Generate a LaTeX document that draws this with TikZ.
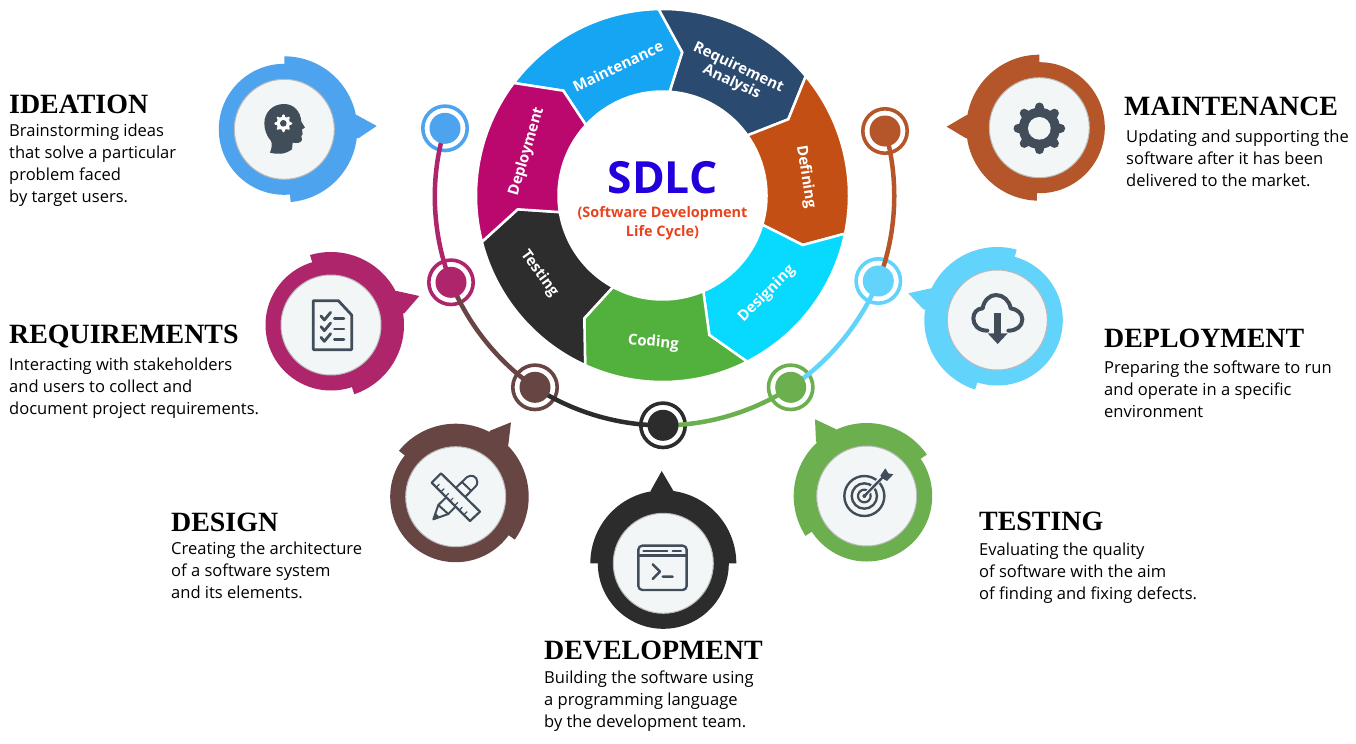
\documentclass[tikz,border=0pt]{standalone}
\usepackage{fontspec}
\usetikzlibrary{calc}
\setmainfont{Liberation Serif}
\newfontfamily\bodyf{Open Sans}
\definecolor{cIde}{HTML}{4EA3EE}
\definecolor{cReq}{HTML}{AE256C}
\definecolor{cDes}{HTML}{674543}
\definecolor{cDev}{HTML}{2C2C2C}
\definecolor{cTes}{HTML}{6BAF4E}
\definecolor{cDep}{HTML}{62D3FB}
\definecolor{cMai}{HTML}{B5562A}
\definecolor{disc}{HTML}{F3F6F7}
\definecolor{icon}{HTML}{414E5A}
\tikzset{
  ringseg/.style={draw=white,line width=2.5bp,line join=miter,fill=#1},
  ringlabel/.style={text=white,font=\bodyf\bfseries\fontsize{15}{17}\selectfont,align=center,inner sep=0pt},
  ttl/.style={anchor=base west,inner sep=0pt,font=\bfseries\fontsize{28}{30}\selectfont},
  bodytxt/.style={anchor=north west,inner sep=0pt,align=left,font=\bodyf\fontsize{16.6}{22.1}\selectfont},
  halo/.style={circle,draw=#1,line width=3.6bp,fill=white,minimum size=44.4bp,inner sep=0pt},
  dot/.style={circle,fill=#1,minimum size=31bp,inner sep=0pt},
  link/.style={draw=#1,line width=4.5bp},
  innerdisc/.style={circle,fill=disc,draw=black!27,line width=1bp,minimum size=100bp,inner sep=0pt},
  ic/.style={draw=icon,line width=2.4bp,line cap=round,line join=round}
}
% outer a1, outer a2, tip, inner a2, inner a1, notch
\newcommand{\rseg}[7]{%
  \path[ringseg=#1] plot[domain=#2:#3,samples=50] ({662.5+186.5*cos(\x)},{195.5-186.5*sin(\x)})
   -- (#4) -- plot[domain=#5:#6,samples=40] ({662.5+104*cos(\x)},{195.5-104*sin(\x)})
   -- (#7) -- cycle;}
% name, cx, cy, colour, a1, a2, tip, base1, base2
\newcommand{\badge}[9]{%
  \fill[#4] (#2,#3) circle (65.5);
  \fill[#4] (#2,#3) -- plot[domain=#5:#6,samples=70] ({#2+73*cos(\x)},{#3-73*sin(\x)}) -- cycle;
  \fill[#4] (#7) -- (#8) -- (#2,#3) -- (#9) -- cycle;
  \node[innerdisc] (#1) at (#2,#3) {};}
\begin{document}
\begin{tikzpicture}[x=1bp,y=-1bp]
\useasboundingbox (0,0) rectangle (1356,743);
\fill[white] (0,0) rectangle (1356,743);

% ---------- central ring ----------
\definecolor{sMai}{HTML}{16A5F3}\definecolor{sReq}{HTML}{2A4A6F}\definecolor{sDef}{HTML}{C44F14}
\definecolor{sDes}{HTML}{08D9FF}\definecolor{sCod}{HTML}{52B13C}\definecolor{sTes}{HTML}{2D2D2D}\definecolor{sDep}{HTML}{BA086F}
\rseg{sMai}{142.9}{91.2}{682.3,52.3}{86}{137.4}{563.3,90.7}
\rseg{sReq}{91.2}{39.8}{788.3,119.3}{35.3}{86}{682.3,52.3}
\rseg{sDef}{39.8}{-11.8}{802.7,245}{-16.3}{35.3}{788.3,119.3}
\rseg{sDes}{-11.8}{-63}{709.3,335}{-66.9}{-16.3}{802.7,245}
\rseg{sCod}{-63}{-114.5}{584.3,318.3}{-118.4}{-66.9}{709.3,335}
\rseg{sTes}{-114.5}{-165.6}{517.7,209.3}{-170.8}{-118.4}{584.3,318.3}
\rseg{sDep}{194.4}{142.9}{563.3,90.7}{137.4}{189.2}{517.7,209.3}

\node[ringlabel,rotate=25.5] (lMai) at (618,66) {Maintenance};
\node[ringlabel,rotate=-25] (lReq) at (735,75) {Requirement\\[-1pt]Analysis};
\node[ringlabel,rotate=-81] (lDef) at (805.7,176.7) {Defining};
\node[ringlabel,rotate=45] (lDes) at (766.7,294) {Designing};
\node[ringlabel,rotate=-5] (lCod) at (653.3,342.7) {Coding};
\node[ringlabel,rotate=-54] (lTes) at (539.3,273.3) {Testing};
\node[ringlabel,rotate=73.5] (lDep) at (526.7,151.7) {Deployment};

\node[font=\bodyf\bfseries\fontsize{44.5}{48}\selectfont,text={rgb,255:red,34;green,0;blue,221},inner sep=0pt] (sdlc) at (662.5,178) {SDLC};
\node[font=\bodyf\bfseries\fontsize{14.5}{19}\selectfont,text={rgb,255:red,232;green,67;blue,31},align=center,inner sep=0pt] (sub) at (662.5,223.5) {(Software Development\\Life Cycle)};

% ---------- timeline ----------
\node[halo=cIde] (r1) at (445,128.3) {};
\node[halo=cReq] (r2) at (451,282.3) {};
\node[halo=cDes] (r3) at (535,387.3) {};
\node[halo=cDev] (r4) at (663,425.3) {};
\node[halo=cTes] (r5) at (790.7,387.3) {};
\node[halo=cDep] (r6) at (878.3,281) {};
\node[halo=cMai] (r7) at (885,131) {};
\draw[link=cReq] (r1.center) to[bend right=19.8,looseness=.85] (r2.center);
\draw[link=cDes] (r2.center) to[bend right=17,looseness=.85] (r3.center);
\draw[link=cDev] (r3.center) to[bend right=17,looseness=.85] (r4.center);
\draw[link=cTes] (r4.center) to[bend right=17,looseness=.85] (r5.center);
\draw[link=cDep] (r5.center) to[bend right=17,looseness=.85] (r6.center);
\draw[link=cMai] (r6.center) to[bend right=19.3,looseness=.85] (r7.center);
\node[dot=cIde] (d1) at (r1) {};
\node[dot=cReq] (d2) at (r2) {};
\node[dot=cDes] (d3) at (r3) {};
\node[dot=cDev] (d4) at (r4) {};
\node[dot=cTes] (d5) at (r5) {};
\node[dot=cDep] (d6) at (r6) {};
\node[dot=cMai] (d7) at (r7) {};

% ---------- badges ----------
\badge{bIde}{284.3}{129.3}{cIde}{90}{-85}{376.7,126}{356.7,115}{358.3,138.3}
\badge{bReq}{331}{325}{cReq}{106.7}{-71.4}{419.3,296}{396.7,291}{404.3,313.3}
\badge{bDes}{455.7}{496.7}{cDes}{141}{-36}{511,422.3}{490,430.7}{508.3,445}
\badge{bDev}{663.3}{563.3}{cDev}{180}{0}{661.7,471}{650.7,490.7}{673.3,490.7}
\badge{bTes}{866.7}{496}{cTes}{213}{34.6}{815,419.3}{816,441.7}{835.7,429}
\badge{bDep}{997.3}{320}{cDep}{252.3}{74.6}{908.3,293.3}{931,288.3}{923.3,309.3}
\badge{bMai}{1039.3}{127.7}{cMai}{268}{90}{946.7,126.7}{966.7,115}{966,138.3}

% ---------- icons ----------
% head
\begin{scope}[shift={(210,60)},scale=1/3]
  \fill[icon] (180,278) .. controls (186,262) and (187,252) .. (183,243)
     .. controls (170,228) and (163,210) .. (163,190)
     .. controls (163,155) and (190,132) .. (222,132)
     .. controls (252,132) and (272,155) .. (274,185)
     -- (285,203) -- (276,208) -- (278,222) -- (274,228) -- (276,240)
     .. controls (272,250) and (260,250) .. (248,248)
     -- (246,268) .. controls (225,284) and (200,284) .. (180,278) -- cycle;
  \begin{scope}[shift={(220,190)}]
    \fill[white] (0,0) circle (20);
    \foreach \a in {0,45,...,315} \draw[white,line width=2.8bp,line cap=round] (\a:14) -- (\a:23);
    \fill[icon] (0,0) circle (10);
  \end{scope}
\end{scope}
% checklist
\begin{scope}[shift={(210,60)},scale=1/3]
  \draw[ic,line width=2.8bp] (310,722) -- (385,722) -- (425,765) -- (425,869) -- (310,869) -- cycle;
  \foreach \yy in {0,32,64} {
    \draw[ic,line width=2.8bp] (333,\yy+768) -- (343,\yy+780) -- (362,\yy+757);
    \draw[ic,line width=2.6bp] (373,\yy+775) -- (402,\yy+775);
  }
\end{scope}
% pencil and ruler
\begin{scope}[shift={(380,360)},scale=1/3]
  \draw[ic,fill=disc,line width=2bp] (160,478) -- (175,435) -- (260,352)
     .. controls (272,342) and (292,348) .. (292,366) .. controls (292,372) and (290,376) .. (287,379)
     -- (205,462) -- cycle;
  \draw[ic,line width=2bp] (175,435) -- (205,462) (246,366) -- (274,393);
  \fill[icon] (160,478) -- (166,458) -- (180,472) -- cycle;
  \draw[ic,fill=disc,line width=2.2bp] (155,368) -- (183,340) -- (300,455) -- (270,483) -- cycle;
  \foreach \t in {0.12,0.24,...,0.9}
    \draw[ic,line width=1.2bp] ($(155,368)!\t!(270,483)$) -- ++(9,-9);
\end{scope}
% terminal
\begin{scope}[shift={(380,360)},scale=1/3]
  \draw[ic,rounded corners=4bp] (775,557) rectangle (920,690);
  \draw[ic] (776,587) -- (919,587);
  \draw[ic,line width=2bp] (790,573) -- (862,573) (878,573) -- (903,573);
  \draw[ic] (818,613) -- (840,635) -- (818,657) (848,650) -- (878,650);
\end{scope}
% target
\begin{scope}[shift={(770,360)},scale=1/3]
  \draw[icon,line width=2.4bp] (283,408) circle (60) circle (38);
  \draw[icon,line width=2.2bp] (283,408) circle (19);
  \fill[icon] (283,408) circle (6);
  \draw[disc,line width=4.5bp] (290,401) -- (330,358);
  \draw[icon,line width=2.4bp] (283,408) -- (338,352);
  \fill[icon] (331,347) -- (346,325) -- (355,340) -- (370,343) -- (351,363) -- (340,357) -- cycle;
\end{scope}
% cloud
\begin{scope}[shift={(760,60)},scale=1/3]
  \draw[ic,line width=4bp] (682,812) .. controls (655,812) and (640,795) .. (640,775)
     .. controls (640,758) and (652,745) .. (668,745)
     .. controls (672,720) and (690,705) .. (708,705)
     .. controls (730,705) and (748,722) .. (752,745)
     .. controls (770,747) and (787,760) .. (787,778)
     .. controls (787,798) and (770,812) .. (745,812);
  \fill[icon] (703,760) rectangle (723,822);
  \fill[icon] (683,820) -- (743,820) -- (713,852) -- cycle;
\end{scope}
% gear
\begin{scope}[shift={(760,60)},scale=1/3]
  \begin{scope}[shift={(838,205)}]
    \fill[icon] (0,0) circle (62);
    \foreach \a in {0,45,...,315} \draw[icon,line width=9bp,line cap=round] (\a:50) -- (\a:64);
    \fill[disc] (0,0) circle (34);
  \end{scope}
\end{scope}

% ---------- texts ----------
\node[ttl] (tIde) at (9,113) {IDEATION};
\node[bodytxt] (xIde) at (9,121) {\strut Brainstorming ideas\\that solve a particular\\problem faced\\by target users.};
\node[ttl] (tReq) at (9,343) {REQUIREMENTS};
\node[bodytxt] (xReq) at (9,355.3) {\strut Interacting with stakeholders\\and users to collect and\\document project requirements.};
\node[ttl] (tMai) at (1124,115) {MAINTENANCE};
\node[bodytxt] (xMai) at (1126,127) {\strut Updating and supporting the\\software after it has been\\delivered to the market.};
\node[ttl] (tDep) at (1104,347) {DEPLOYMENT};
\node[bodytxt] (xDep) at (1104,358.3) {\strut Preparing the software to run\\and operate in a specific\\environment};
\node[ttl] (tDes) at (171,531) {DESIGN};
\node[bodytxt] (xDes) at (171,539.3) {\strut Creating the architecture\\of a software system\\and its elements.};
\node[ttl] (tTes) at (979,530) {TESTING};
\node[bodytxt] (xTes) at (979,540.3) {\strut Evaluating the quality\\of software with the aim\\of finding and fixing defects.};
\node[ttl] (tDev) at (544,659) {DEVELOPMENT};
\node[bodytxt] (xDev) at (544,668.3) {\strut Building the software using\\a programming language\\by the development team.};
\end{tikzpicture}
\end{document}
